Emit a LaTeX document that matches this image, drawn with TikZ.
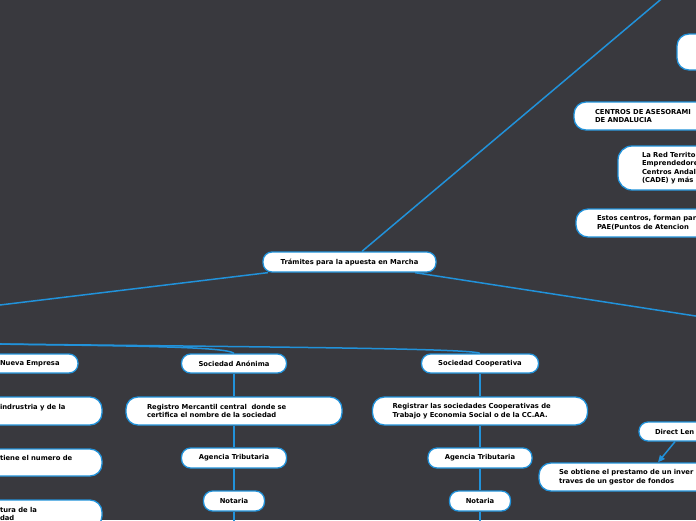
\documentclass[tikz,border=0pt]{standalone}
\usepackage{fontspec}
\setmainfont{DejaVu Sans}
\usetikzlibrary{arrows.meta}
\definecolor{bgc}{RGB}{57,57,62}
\definecolor{lnc}{RGB}{33,146,218}
\pgfdeclarelayer{bg}
\pgfsetlayers{bg,main}
\begin{document}
\begin{tikzpicture}[x=1pt,y=-1pt,
  box/.style={draw=lnc, fill=white, line width=1.3pt, rounded corners=9pt, text=black,
    font=\fontsize{6.8}{8.4}\selectfont\bfseries, inner sep=0pt, align=center},
  lbox/.style={box, align=left},
  conn/.style={draw=lnc, line width=1.5pt}]
\useasboundingbox (0,0) rectangle (696,520);
\begin{pgfonlayer}{bg}
\fill[bgc] (0,0) rectangle (696,520);
\end{pgfonlayer}
\begin{scope}
\clip (0,0) rectangle (696,520);
% off-screen ends
\coordinate (topEnd) at (672,-10);
\coordinate (leftEnd) at (-10,306.2);
\coordinate (rightEnd) at (706,317.6);
\coordinate (hubL) at (-40,343.5);
\coordinate (endSA) at (234,530);
\coordinate (endSC) at (480,530);
% central
\node[box, minimum width=173pt, minimum height=20pt] (c) at (349.5,262) {Trámites para la apuesta en Marcha};
% right top cluster
\node[box, rounded corners=12pt, minimum width=100pt, minimum height=36pt] (tr) at (727,52) {};
\node[lbox, rounded corners=12pt, minimum width=180pt, minimum height=28pt, text width=138pt] (ce) at (664,116) {CENTROS DE ASESORAMI\\DE ANDALUCIA};
\node[lbox, rounded corners=14pt, minimum width=200pt, minimum height=44pt, text width=152pt] (rt) at (718,168) {La Red Territo\\Emprendedore\\Centros Andal\\(CADE) y más};
\node[lbox, rounded corners=12pt, minimum width=200pt, minimum height=28pt, text width=158pt] (es) at (676,223) {Estos centros, forman par\\PAE(Puntos de Atencion};
% direct lending
\node[lbox, minimum width=120pt, minimum height=19pt, text width=88pt] (dl) at (699,431.5) {Direct Len};
\node[lbox, rounded corners=12pt, minimum width=220pt, minimum height=28pt, text width=180pt] (so) at (649,477) {Se obtiene el prestamo de un inver\\traves de un gestor de fondos};
% left column
\node[lbox, minimum width=88pt, minimum height=19pt, text width=68pt] (ne) at (34,363.5) {Nueva Empresa};
\node[lbox, rounded corners=12pt, minimum width=132pt, minimum height=28pt, text width=72pt] (in) at (36,411) {indrustria y de la\\\mbox{}};
\node[lbox, rounded corners=12pt, minimum width=122pt, minimum height=27pt, text width=82pt] (ti) at (41,462.5) {tiene el numero de\\\mbox{}};
\node[lbox, rounded corners=12pt, minimum width=142pt, minimum height=28pt, text width=62pt] (tu) at (31,514) {tura de la\\dad};
% Sociedad Anonima column
\node[box, minimum width=105pt, minimum height=19pt] (sa) at (234,363.5) {Sociedad Anónima};
\node[lbox, rounded corners=12pt, minimum width=216pt, minimum height=28pt, text width=174pt] (rm) at (234,411) {Registro Mercantil central\ \ donde se\\certifica el nombre de la sociedad};
\node[box, minimum width=105pt, minimum height=20pt] (at1) at (234,458) {Agencia Tributaria};
\node[box, minimum width=61pt, minimum height=20pt] (no1) at (234,501) {Notaria};
% Sociedad Cooperativa column
\node[box, minimum width=117pt, minimum height=19pt] (sc) at (480,363.5) {Sociedad Cooperativa};
\node[lbox, rounded corners=12pt, minimum width=215pt, minimum height=28pt, text width=175pt] (rc) at (480,411) {Registrar las sociedades Cooperativas de\\Trabajo y Economia Social o de la CC.AA.};
\node[box, minimum width=104pt, minimum height=20pt] (at2) at (480,458) {Agencia Tributaria};
\node[box, minimum width=61pt, minimum height=20pt] (no2) at (480,501) {Notaria};
% connectors
\begin{pgfonlayer}{bg}
\draw[conn] ([xshift=12.5pt]c.north) -- (topEnd);
\draw[conn] ([xshift=-81.5pt]c.south) -- (leftEnd);
\draw[conn] ([xshift=65.5pt]c.south) -- (rightEnd);
\draw[conn] (hubL) .. controls (120,346) and (225,346) .. (sa.north);
\draw[conn] (hubL) .. controls (250,347) and (470,348) .. (sc.north);
\draw[conn] (sa) -- (rm);
\draw[conn] (rm) -- (at1);
\draw[conn] (at1) -- (no1);
\draw[conn] (no1) -- (endSA);
\draw[conn] (sc) -- (rc);
\draw[conn] (rc) -- (at2);
\draw[conn] (at2) -- (no2);
\draw[conn] (no2) -- (endSC);
\end{pgfonlayer}
\draw[conn, -{Triangle[length=7pt,width=6pt]}] ([xshift=-24pt]dl.south) -- ([xshift=9pt]so.north);
\end{scope}
\end{tikzpicture}
\end{document}
